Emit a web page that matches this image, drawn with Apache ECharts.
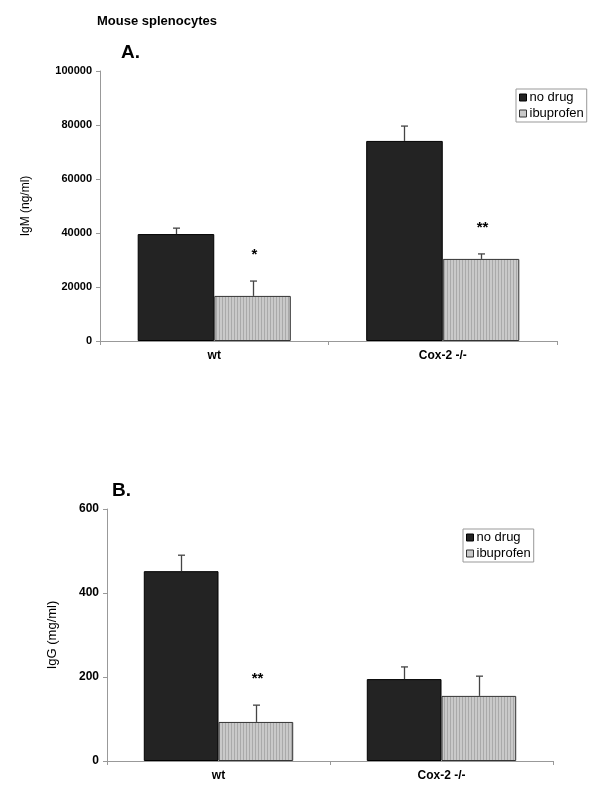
<!DOCTYPE html>
<html><head><meta charset="utf-8">
<script src="https://cdn.jsdelivr.net/npm/echarts@6/dist/echarts.min.js"></script>
<style>html,body{margin:0;padding:0;background:#fff}#c{width:600px;height:791px}</style>
</head><body><div id="c"></div>
<script>
var categories = ['wt', 'Cox-2 -/-'];
var seriesNames = ['no drug', 'ibuprofen'];
// Panel A: IgM (ng/ml)
var igmNoDrug = [39600, 74100];
var igmNoDrugErr = [2200, 5500];
var igmIbu = [16700, 30400];
var igmIbuErr = [5500, 1850];
var igmSig = ['*', '**'];
var igmTicks = [0, 20000, 40000, 60000, 80000, 100000];
// Panel B: IgG (mg/ml)
var iggNoDrug = [452, 195];
var iggNoDrugErr = [38, 29];
var iggIbu = [93, 155];
var iggIbuErr = [40, 47];
var iggSig = ['**', ''];
var iggTicks = [0, 200, 400, 600];

var FONT = '"Liberation Sans", Arial, sans-serif';
var CAT_GAP = 0.33;

// striped pattern for ibuprofen bars
var pc = document.createElement('canvas');
pc.width = 3; pc.height = 10;
var pctx = pc.getContext('2d');
pctx.fillStyle = '#c9c9c9'; pctx.fillRect(0, 0, 3, 10);
pctx.fillStyle = '#a9a9a9'; pctx.fillRect(0, 0, 1, 10);
var stripe = {image: pc, repeat: 'repeat'};

var darkStyle = {color: '#232323', borderColor: '#000', borderWidth: 1};
var lightStyle = {color: stripe, borderColor: '#333', borderWidth: 1};

function errSeries(gi, vals, errs, sig, side) {
  var data = vals.map(function (v, i) { return [i, v, v + errs[i]]; });
  return {
    type: 'custom', xAxisIndex: gi, yAxisIndex: gi, z: 5, silent: true,
    data: data,
    renderItem: function (params, api) {
      var band = api.size([1, 0])[0];
      var bw = band * (1 - CAT_GAP) / 2;
      var base = api.coord([api.value(0), api.value(1)]);
      var top = api.coord([api.value(0), api.value(2)]);
      var x = Math.round(base[0] + side * bw / 2) + 0.5;
      var st = {stroke: '#444', lineWidth: 1.3};
      var ch = [
        {type: 'line', shape: {x1: x, y1: base[1], x2: x, y2: top[1]}, style: st},
        {type: 'line', shape: {x1: x - 3.5, y1: top[1], x2: x + 3.5, y2: top[1]}, style: st}
      ];
      var s = sig[params.dataIndex];
      if (s) {
        ch.push({type: 'text', x: x + 1, y: top[1] - 26,
          style: {text: s, fill: '#000', font: 'bold 15px ' + FONT, align: 'center', verticalAlign: 'middle'}});
      }
      return {type: 'group', children: ch};
    }
  };
}

function barSeries(gi, name, vals, style) {
  return {
    name: name, type: 'bar', xAxisIndex: gi, yAxisIndex: gi,
    data: vals, barGap: '0%', barCategoryGap: (CAT_GAP * 100) + '%',
    itemStyle: style
  };
}

function xAxis(gi) {
  return {
    type: 'category', gridIndex: gi, data: categories,
    axisLine: {lineStyle: {color: '#999', width: 1}},
    axisTick: {show: true, alignWithLabel: false, length: 4, lineStyle: {color: '#999'}},
    axisLabel: {color: '#000', fontFamily: FONT, fontWeight: 'bold', fontSize: 12, margin: 9}
  };
}
function yAxis(gi, ticks, name, gap, fs, nfs) {
  return {
    type: 'value', gridIndex: gi, min: ticks[0], max: ticks[ticks.length - 1],
    interval: ticks[1] - ticks[0],
    name: name, nameLocation: 'middle', nameGap: gap, nameRotate: 90,
    nameTextStyle: {color: '#000', fontFamily: FONT, fontSize: nfs},
    axisLine: {show: true, lineStyle: {color: '#999', width: 1}},
    axisTick: {show: true, length: 4, lineStyle: {color: '#999'}},
    axisLabel: {color: '#000', fontFamily: FONT, fontWeight: 'bold', fontSize: fs, margin: 8,
      formatter: function (v) { return String(v); }},
    splitLine: {show: false}
  };
}
function legend(left, top) {
  return {
    left: left, top: top, orient: 'vertical',
    borderColor: '#999', borderWidth: 1, padding: [2, 3, 2, 3],
    itemWidth: 7, itemHeight: 7, itemGap: 3, icon: 'rect',
    textStyle: {color: '#000', fontFamily: FONT, fontSize: 13, padding: [0, 0, 0, -2]},
    data: [
      {name: seriesNames[0], itemStyle: {color: '#232323', borderColor: '#000', borderWidth: 1}},
      {name: seriesNames[1], itemStyle: {color: '#c9c9c9', borderColor: '#333', borderWidth: 1}}
    ]
  };
}

var chart = echarts.init(document.getElementById('c'), null, {renderer: 'canvas'});
chart.setOption({
  animation: false,
  backgroundColor: '#fff',
  title: [
    {text: 'Mouse splenocytes', left: 92, top: 10, textStyle: {fontFamily: FONT, fontSize: 13, fontWeight: 'bold', color: '#000'}},
    {text: 'A.', left: 116, top: 38, textStyle: {fontFamily: FONT, fontSize: 19, fontWeight: 'bold', color: '#000'}},
    {text: 'B.', left: 107, top: 476, textStyle: {fontFamily: FONT, fontSize: 19, fontWeight: 'bold', color: '#000'}}
  ],
  legend: [legend(516, 89), legend(463, 529)],
  grid: [
    {left: 100, top: 71, width: 457, height: 270},
    {left: 107, top: 509, width: 446, height: 252}
  ],
  xAxis: [xAxis(0), xAxis(1)],
  yAxis: [yAxis(0, igmTicks, 'IgM (ng/ml)', 68, 11, 12), yAxis(1, iggTicks, 'IgG (mg/ml)', 48, 12, 13)],
  series: [
    barSeries(0, seriesNames[0], igmNoDrug, darkStyle),
    barSeries(0, seriesNames[1], igmIbu, lightStyle),
    errSeries(0, igmNoDrug, igmNoDrugErr, ['', ''], -1),
    errSeries(0, igmIbu, igmIbuErr, igmSig, 1),
    barSeries(1, seriesNames[0], iggNoDrug, darkStyle),
    barSeries(1, seriesNames[1], iggIbu, lightStyle),
    errSeries(1, iggNoDrug, iggNoDrugErr, ['', ''], -1),
    errSeries(1, iggIbu, iggIbuErr, iggSig, 1)
  ]
});
</script></body></html>
